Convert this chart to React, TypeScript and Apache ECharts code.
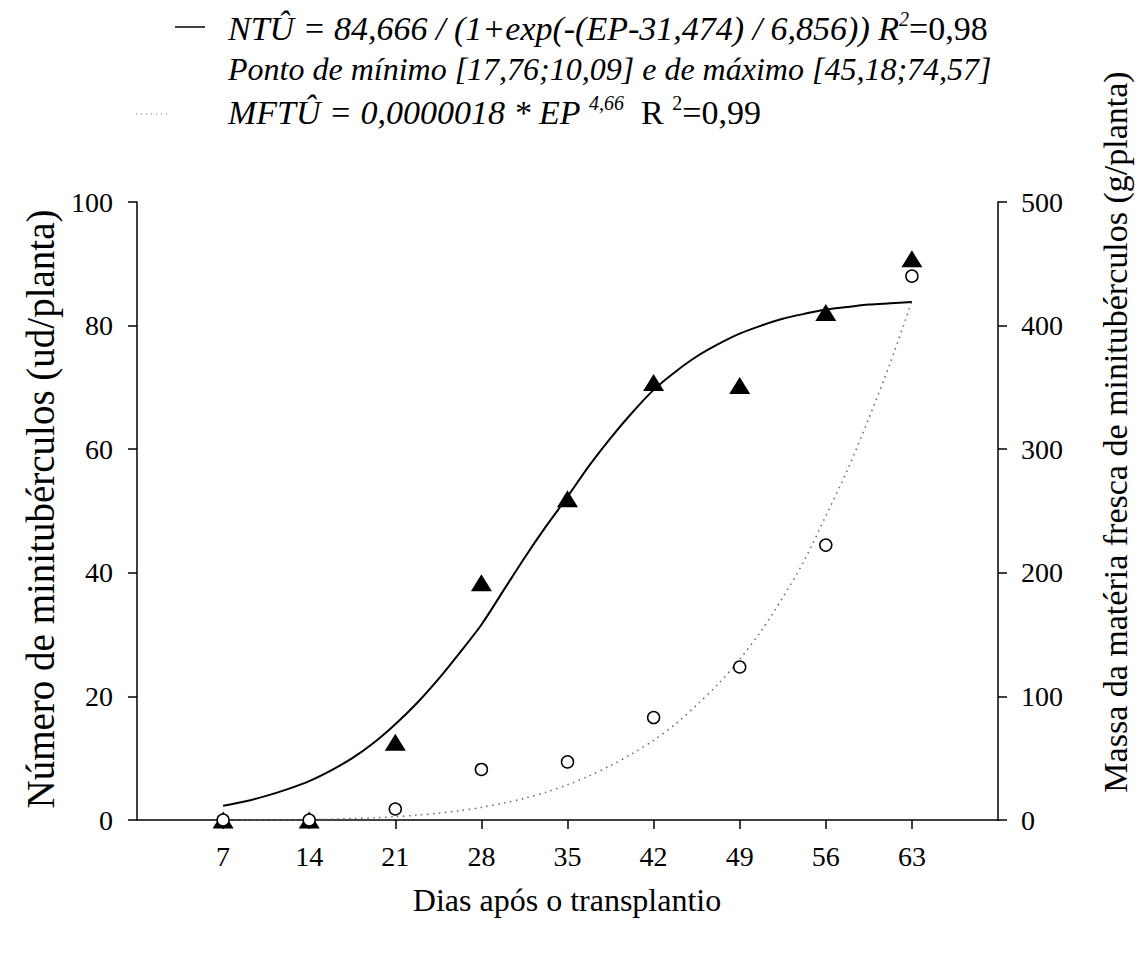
import React, { useEffect, useRef } from "react";
import * as echarts from "echarts";

const days = [7, 14, 21, 28, 35, 42, 49, 56, 63];
const ntObserved = [0, 0, 12.6, 38.4, 52.0, 70.8, 70.3, 82.1, 90.8];
const mftObserved = [0, 0, 8.9, 40.9, 47.0, 82.9, 123.8, 222.4, 440.0];

const fitDays = [
  7, 8.75, 10.5, 12.25, 14, 15.75, 17.5, 19.25, 21, 22.75, 24.5, 26.25, 28, 29.75, 31.5, 33.25, 35,
  36.75, 38.5, 40.25, 42, 43.75, 45.5, 47.25, 49, 50.75, 52.5, 54.25, 56, 57.75, 59.5, 61.25, 63,
];
const ntFitted = [
  2.3, 3.0, 3.9, 5.0, 6.3, 8.0, 10.0, 12.5, 15.5, 18.9, 22.8, 27.1, 31.6, 37.0, 42.4, 47.5, 52.3,
  57.3, 61.8, 65.9, 69.6, 72.5, 75.0, 77.0, 78.7, 80.0, 81.1, 81.9, 82.6, 83.0, 83.4, 83.6, 83.8,
];
const mftFitted = [
  0, 0.05, 0.1, 0.2, 0.4, 0.7, 1.2, 1.8, 2.7, 3.9, 5.5, 7.6, 10.2, 13.5, 17.5, 22.5, 28.5,
  35.7, 44.0, 53.7, 64.5, 77.5, 93.0, 110.0, 130.0, 153.0, 180.0, 210.0, 246.0, 283.0, 325.0, 370.0, 420.0,
];

const xTicks = [7, 14, 21, 28, 35, 42, 49, 56, 63];

const FAMILY = "Liberation Serif";

export default function App() {
  const ref = useRef<HTMLDivElement>(null);

  useEffect(() => {
    if (!ref.current) return;
    const chart = echarts.init(ref.current, null, { renderer: "svg" });

    const pair = (xs: number[], ys: number[]) => xs.map((x, i) => [x, ys[i]]);

    const axisLine = { show: true, lineStyle: { color: "#000", width: 1.5 } };
    const axisTick = { show: true, inside: false, length: 9, lineStyle: { color: "#000", width: 1.5 } };

    const makeRich = (size: number, supSize: number) => ({
      i: { fontFamily: FAMILY, fontStyle: "italic", fontSize: size, color: "#000", lineHeight: 38 },
      n: { fontFamily: FAMILY, fontSize: size, color: "#000", lineHeight: 38 },
      si: { fontFamily: FAMILY, fontStyle: "italic", fontSize: supSize, color: "#000", lineHeight: 38, verticalAlign: "top" as const },
      sn: { fontFamily: FAMILY, fontSize: supSize, color: "#000", lineHeight: 38, verticalAlign: "top" as const },
    });

    const plainText = (size: number) => ({
      fontFamily: FAMILY,
      fontSize: size,
      fill: "#000",
      align: "center",
      verticalAlign: "middle",
    });

    chart.setOption({
      animation: false,
      backgroundColor: "#fff",
      textStyle: { fontFamily: FAMILY },
      grid: { left: 137, right: 143, top: 202, bottom: 134, containLabel: false },
      xAxis: {
        type: "value",
        min: 0,
        max: 70,
        interval: 7,
        axisLine,
        axisTick: { ...axisTick, customValues: xTicks },
        splitLine: { show: false },
        axisLabel: {
          customValues: xTicks,
          margin: 22,
          fontFamily: FAMILY,
          fontSize: 28,
          color: "#000",
        },
      },
      yAxis: [
        {
          type: "value",
          min: 0,
          max: 100,
          interval: 20,
          position: "left",
          axisLine,
          axisTick,
          splitLine: { show: false },
          axisLabel: { margin: 24, fontFamily: FAMILY, fontSize: 28, color: "#000" },
        },
        {
          type: "value",
          min: 0,
          max: 500,
          interval: 100,
          position: "right",
          axisLine,
          axisTick,
          splitLine: { show: false },
          axisLabel: { margin: 23, fontFamily: FAMILY, fontSize: 28, color: "#000" },
        },
      ],
      series: [
        {
          name: "NT ajustado",
          type: "line",
          yAxisIndex: 0,
          data: pair(fitDays, ntFitted),
          smooth: 0.3,
          symbol: "none",
          lineStyle: { color: "#000", width: 2 },
          z: 2,
        },
        {
          name: "MFT ajustado",
          type: "line",
          yAxisIndex: 1,
          data: pair(fitDays, mftFitted),
          smooth: 0.3,
          symbol: "none",
          lineStyle: { color: "#666", width: 1.5, type: [1.5, 4.5] },
          z: 2,
        },
        {
          name: "NT",
          type: "scatter",
          yAxisIndex: 0,
          data: pair(days, ntObserved),
          symbol: "triangle",
          symbolSize: [21, 17],
          itemStyle: { color: "#000", opacity: 1 },
          z: 3,
        },
        {
          name: "MFT",
          type: "scatter",
          yAxisIndex: 1,
          data: pair(days, mftObserved),
          symbol: "circle",
          symbolSize: 12,
          itemStyle: { color: "#fff", borderColor: "#000", borderWidth: 1.5, opacity: 1 },
          z: 4,
        },
      ],
      graphic: [
        {
          type: "line",
          shape: { x1: 175, y1: 27, x2: 205, y2: 27 },
          style: { stroke: "#000", lineWidth: 1.5 },
        },
        {
          type: "line",
          shape: { x1: 136, y1: 114, x2: 170, y2: 114 },
          style: { stroke: "#777", lineWidth: 1.2, lineDash: [1, 4] },
        },
        {
          type: "text",
          x: 228,
          y: 28,
          style: {
            text: "{i|NTÛ = 84,666 / (1+exp(-(EP-31,474) / 6,856)) R}{si|2}{n|=0,98}",
            rich: makeRich(34, 20),
            fontFamily: FAMILY,
            verticalAlign: "middle",
            align: "left",
          },
        },
        {
          type: "text",
          x: 228,
          y: 69,
          style: {
            text: "{i|Ponto de mínimo [17,76;10,09] e de máximo [45,18;74,57]}",
            rich: makeRich(32, 20),
            fontFamily: FAMILY,
            verticalAlign: "middle",
            align: "left",
          },
        },
        {
          type: "text",
          x: 228,
          y: 112,
          style: {
            text: "{i|MFTÛ = 0,0000018 * EP }{si|4,66}{n|  R }{sn|2}{n|=0,99}",
            rich: makeRich(34, 20),
            fontFamily: FAMILY,
            verticalAlign: "middle",
            align: "left",
          },
        },
        {
          type: "text",
          x: 40,
          y: 509,
          rotation: Math.PI / 2,
          style: { text: "Número de minitubérculos (ud/planta)", ...plainText(39) },
        },
        {
          type: "text",
          x: 1115,
          y: 432,
          rotation: Math.PI / 2,
          style: { text: "Massa da matéria fresca de minitubérculos (g/planta)", ...plainText(34) },
        },
        {
          type: "text",
          x: 567,
          y: 900,
          style: { text: "Dias após o transplantio", ...plainText(32) },
        },
      ],
    });

    return () => chart.dispose();
  }, []);

  return (
    <div
      ref={ref}
      style={{ position: "fixed", left: 0, top: 0, width: 1141, height: 954, background: "#fff" }}
    />
  );
}
